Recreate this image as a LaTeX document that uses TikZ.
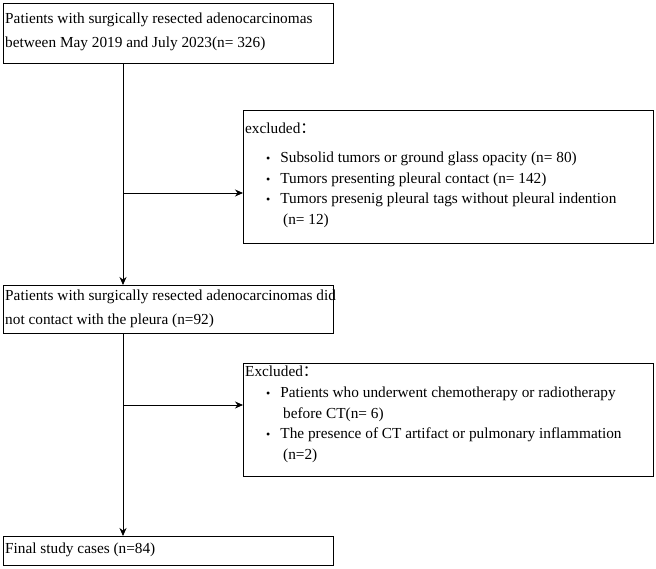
\documentclass[tikz,border=0pt]{standalone}
\usepackage{fontspec}
\setmainfont{Liberation Serif}
\newfontfamily\cjk{Noto Sans CJK SC}
\usetikzlibrary{arrows.meta}
\begin{document}
\begin{tikzpicture}[x=1pt,y=-1pt,
 box/.style={draw,line width=0.8pt},
 txt/.style={anchor=west,inner sep=0pt,font=\fontsize{15.3}{24}\selectfont,align=left},
 btxt/.style={txt,font=\fontsize{15.3}{20.5}\selectfont},
 arr/.style={-{Stealth[length=8pt,width=7pt]},line width=0.8pt}]
\useasboundingbox (0,0) rectangle (656,568);
\draw[box] (3,3) rectangle (333,63);
\node[txt] (t1) at (5,32) {Patients with surgically resected adenocarcinomas\\between May 2019 and July 2023(n= 326)};
\draw[box] (243,110) rectangle (653,243);
\node[txt] (t2) at (245,128) {excluded{\cjk ：}};
\node[btxt] (t2b) at (266,190) {{\large\textbullet}\hspace{10pt}Subsolid tumors or ground glass opacity (n= 80)\\
{\large\textbullet}\hspace{10pt}Tumors presenting pleural contact (n= 142)\\
{\large\textbullet}\hspace{10pt}Tumors presenig pleural tags without pleural indention\\
\hspace{17pt}(n= 12)};
\draw[box] (3,285) rectangle (333,333);
\node[txt] (t3) at (5,309) {Patients with surgically resected adenocarcinomas did\\not contact with the pleura (n=92)};
\draw[box] (243,363) rectangle (653,476);
\node[txt] (t4) at (245,371) {Excluded{\cjk ：}};
\node[btxt] (t4b) at (266,425) {{\large\textbullet}\hspace{10pt}Patients who underwent chemotherapy or radiotherapy\\
\hspace{17pt}before CT(n= 6)\\
{\large\textbullet}\hspace{10pt}The presence of CT artifact or pulmonary inflammation\\
\hspace{17pt}(n=2)};
\draw[box] (3,536) rectangle (333,565);
\node[txt] (t5) at (5,550) {Final study cases (n=84)};
\coordinate (a1) at (123,63); \coordinate (a2) at (123,285);
\coordinate (b1) at (123,193); \coordinate (b2) at (243,193);
\coordinate (c1) at (123,333); \coordinate (c2) at (123,536);
\coordinate (d1) at (123,405); \coordinate (d2) at (243,405);
\draw[arr] (a1) -- (a2);
\draw[arr] (b1) -- (b2);
\draw[arr] (c1) -- (c2);
\draw[arr] (d1) -- (d2);
\end{tikzpicture}
\end{document}
